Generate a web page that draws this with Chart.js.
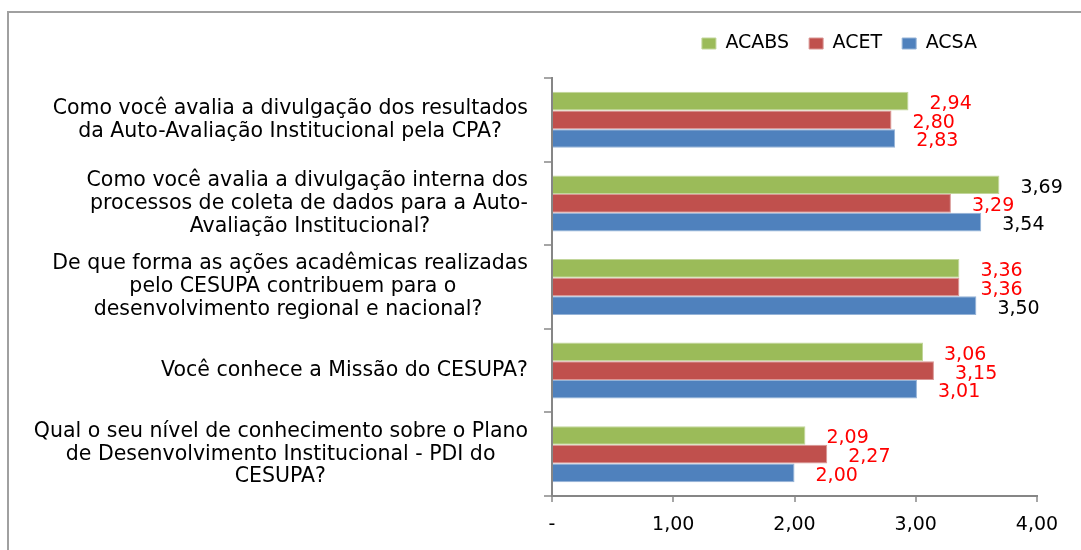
<!DOCTYPE html>
<html>
<head>
<meta charset="utf-8">
<script src="https://cdn.jsdelivr.net/npm/chart.js@4/dist/chart.umd.min.js"></script>
<style>
  html, body { margin: 0; padding: 0; background: #fff; overflow: hidden; }
  #frame {
    position: absolute; left: 7px; top: 11px;
    width: 1200px; height: 700px;
    border: 2px solid #a0a0a0;
  }
  #wrap { position: absolute; left: 0; top: 0; width: 1081px; height: 550px; }
</style>
</head>
<body>
<div id="frame"></div>
<div id="wrap"><canvas id="chart" width="1081" height="550"></canvas></div>
<script>
// Data
const questions = [
    ['Como você avalia a divulgação dos resultados', 'da Auto-Avaliação Institucional pela CPA?'],
    ['Como você avalia a divulgação interna dos', 'processos de coleta de dados para a Auto-', 'Avaliação Institucional?'],
    ['De que forma as ações acadêmicas realizadas', 'pelo CESUPA contribuem para o', 'desenvolvimento regional e nacional?'],
    ['Você conhece a Missão do CESUPA?'],
    ['Qual o seu nível de conhecimento sobre o Plano', 'de Desenvolvimento Institucional - PDI do', 'CESUPA?']
];
const seriesNames = ['ACABS', 'ACET', 'ACSA'];
const acabs = [2.94, 3.69, 3.36, 3.06, 2.09];
const acet = [2.80, 3.29, 3.36, 3.15, 2.27];
const acsa = [2.83, 3.54, 3.50, 3.01, 2.00];
const xTickLabels = ['-', '1,00', '2,00', '3,00', '4,00'];

const FONT = '"DejaVu Sans", Verdana, sans-serif';
const labelFontSize = 20.5;

// Centre each line inside its own label block (Excel style) while the
// block stays right-aligned against the axis: pad short lines on the right.
function centreLines(lines) {
    const c = document.createElement('canvas').getContext('2d');
    c.font = labelFontSize + 'px ' + FONT;
    const widths = lines.map(l => c.measureText(l).width);
    const widest = Math.max.apply(null, widths);
    const sp = c.measureText('\u00A0').width;
    return lines.map((l, i) => l + '\u00A0'.repeat(Math.round((widest - widths[i]) / 2 / sp)));
}

// Value labels next to each bar
const valueLabels = {
    id: 'valueLabels',
    afterDatasetsDraw(chart) {
        const ctx = chart.ctx;
        ctx.save();
        ctx.font = '19px ' + FONT;
        ctx.textAlign = 'left';
        ctx.textBaseline = 'middle';
        chart.data.datasets.forEach((ds, i) => {
            chart.getDatasetMeta(i).data.forEach((bar, j) => {
                const v = ds.data[j];
                ctx.fillStyle = v >= 3.5 ? '#000000' : '#ff0000';
                ctx.fillText(v.toFixed(2).replace('.', ','), bar.x + 21, bar.y + 3);
            });
        });
        ctx.restore();
    }
};

// Move the legend to where the reference has it (right of centre, near the top)
const legendPlace = {
    id: 'legendPlace',
    afterLayout(chart) {
        const lg = chart.legend;
        if (!lg) return;
        const dx = 997 - lg.right;
        lg.left += dx; lg.right += dx;
        const dy = 14 - lg.top;
        lg.top += dy; lg.bottom += dy;
    }
};

Chart.defaults.font.family = FONT;
Chart.defaults.color = '#000000';

new Chart(document.getElementById('chart'), {
    type: 'bar',
    data: {
        labels: questions.map(centreLines),
        datasets: [
            { label: seriesNames[0], data: acabs, backgroundColor: '#9BBB59', borderColor: '#c2d69b' },
            { label: seriesNames[1], data: acet, backgroundColor: '#C0504D', borderColor: '#d99694' },
            { label: seriesNames[2], data: acsa, backgroundColor: '#4F81BD', borderColor: '#95b3d7' }
        ]
    },
    options: {
        indexAxis: 'y',
        responsive: false,
        animation: false,
        layout: { padding: { left: 0, right: 44, top: 29, bottom: 0 } },
        datasets: {
            bar: { categoryPercentage: 0.67, barPercentage: 1.0, borderWidth: 1, borderSkipped: 'start' }
        },
        scales: {
            x: {
                min: 0,
                max: 4,
                ticks: {
                    stepSize: 1,
                    padding: 12,
                    font: { size: 19 },
                    color: '#000000',
                    callback: (v, i) => xTickLabels[i]
                },
                grid: { drawOnChartArea: false, tickLength: 6, color: '#a6a6a6', lineWidth: 2 },
                border: { color: '#868686', width: 2 },
                afterFit(scale) { scale.height = 54; }
            },
            y: {
                ticks: {
                    padding: 16,
                    font: { size: labelFontSize, lineHeight: 1.12 },
                    color: '#000000',
                    crossAlign: 'near'
                },
                grid: { drawOnChartArea: false, tickLength: 8, color: '#a6a6a6', lineWidth: 2 },
                border: { color: '#868686', width: 2 },
                afterFit(scale) { scale.width = 552; }
            }
        },
        plugins: {
            legend: {
                position: 'top',
                align: 'end',
                labels: {
                    boxWidth: 14,
                    boxHeight: 11,
                    padding: 20,
                    font: { size: 19 },
                    color: '#000000'
                }
            },
            tooltip: { enabled: false }
        }
    },
    plugins: [valueLabels, legendPlace]
});
</script>
</body>
</html>
